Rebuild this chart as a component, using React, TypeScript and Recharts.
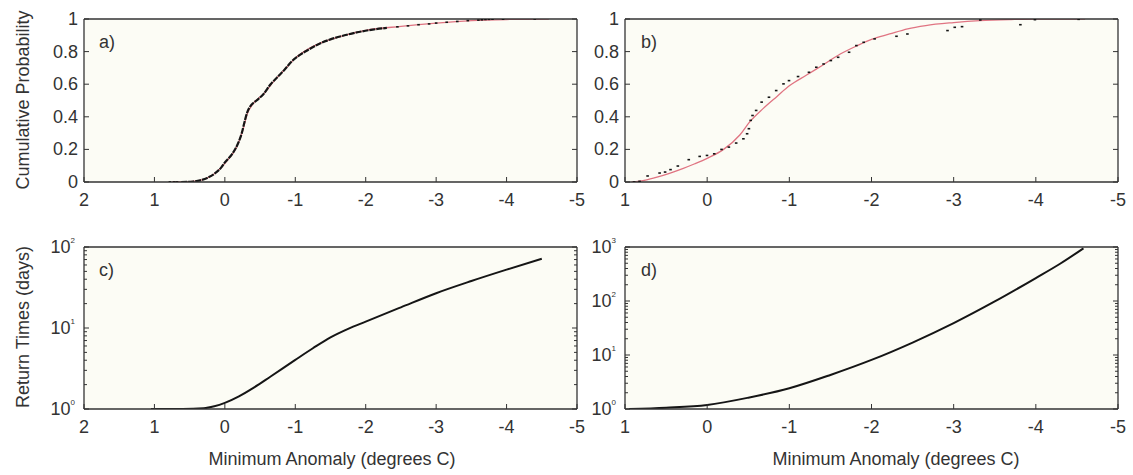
import React from 'react';
import { ComposedChart, Line, Scatter, XAxis, YAxis, CartesianGrid } from 'recharts';

const FONT = '"Liberation Sans", Arial, Helvetica, sans-serif';
const TEXT = '#333';
const FRAME = '#333';
const BG = '#fcfcf5';
const RED = '#e07482';
const BLACK = '#151515';

// ---- tick values ----
const X_TICKS_AC = [2, 1, 0, -1, -2, -3, -4, -5];
const X_TICKS_BD = [1, 0, -1, -2, -3, -4, -5];
const P_TICKS = [0, 0.2, 0.4, 0.6, 0.8, 1];
const P_TICK_LABELS = ['0', '0.2', '0.4', '0.6', '0.8', '1'];
const LOG_TICKS_C = [1, 2, 3, 4, 5, 6, 7, 8, 9, 10, 20, 30, 40, 50, 60, 70, 80, 90, 100];
const LOG_TICKS_D = [1, 2, 3, 4, 5, 6, 7, 8, 9, 10, 20, 30, 40, 50, 60, 70, 80, 90, 100, 200, 300, 400, 500, 600, 700, 800, 900, 1000];

// ---- panel a: fitted CDF (red) and empirical CDF (black) ----
const A_FIT_X = [0.75, 0.5, 0.35, 0.2, 0.05, -0.05, -0.15, -0.25, -0.32, -0.4, -0.55, -0.7, -0.85, -1.0, -1.2, -1.4, -1.7, -2.0, -2.5, -3.0, -3.5, -4.0, -4.6];
const A_FIT_P = [0, 0.002, 0.01, 0.035, 0.09, 0.14, 0.2, 0.31, 0.42, 0.48, 0.54, 0.62, 0.69, 0.76, 0.82, 0.86, 0.9, 0.93, 0.955, 0.975, 0.99, 0.997, 1.0];
const A_EMP_X = [0.62, 0.45, 0.35, 0.25, 0.15, 0.05, 0.0, -0.1, -0.18, -0.24, -0.28, -0.32, -0.37, -0.45, -0.55, -0.65, -0.75, -0.85, -0.95, -1.05, -1.2, -1.35, -1.5, -1.7, -1.9, -2.1, -2.3];
const A_EMP_P = [0, 0.003, 0.01, 0.025, 0.05, 0.09, 0.12, 0.17, 0.23, 0.3, 0.37, 0.43, 0.47, 0.5, 0.54, 0.6, 0.645, 0.69, 0.74, 0.775, 0.815, 0.85, 0.875, 0.9, 0.92, 0.935, 0.945];
const A_TAIL_X = [0.78, 0.72, 0.68, -2.45, -2.6, -2.75, -2.9, -3.0, -3.15, -3.3, -3.45, -3.6, -3.65, -3.7, -3.75, -3.8, -3.95, -4.4];
const A_TAIL_P = [0, 0, 0, 0.952, 0.958, 0.965, 0.97, 0.975, 0.98, 0.985, 0.99, 0.993, 0.995, 0.997, 0.998, 0.999, 0.999, 1.0];

// ---- panel b ----
const B_FIT_X = [0.92, 0.75, 0.61, 0.45, 0.29, 0.15, 0.0, -0.2, -0.4, -0.52, -0.68, -0.85, -1.0, -1.21, -1.41, -1.62, -1.82, -2.0, -2.22, -2.44, -2.66, -3.0, -3.32, -3.7, -4.0, -4.6];
const B_FIT_P = [0, 0.012, 0.03, 0.055, 0.084, 0.112, 0.145, 0.2, 0.29, 0.37, 0.45, 0.525, 0.59, 0.656, 0.718, 0.785, 0.835, 0.875, 0.908, 0.94, 0.96, 0.978, 0.99, 0.997, 1, 1];
const B_EMP_X = [0.889, 0.823, 0.725, 0.579, 0.512, 0.446, 0.357, 0.224, 0.091, 0.002, -0.086, -0.175, -0.264, -0.353, -0.441, -0.486, -0.508, -0.53, -0.552, -0.596, -0.663, -0.752, -0.84, -0.929, -0.996, -1.106, -1.239, -1.328, -1.417, -1.505, -1.594, -1.727, -1.816, -1.905, -2.038, -2.304, -2.437, -2.925, -3.013, -3.102, -3.812, -3.324, -3.989, -4.521];
const B_EMP_P = [0, 0.004, 0.037, 0.055, 0.061, 0.076, 0.098, 0.137, 0.157, 0.163, 0.173, 0.2, 0.214, 0.239, 0.265, 0.296, 0.327, 0.378, 0.408, 0.439, 0.49, 0.52, 0.561, 0.602, 0.622, 0.647, 0.673, 0.704, 0.724, 0.745, 0.765, 0.796, 0.837, 0.857, 0.878, 0.894, 0.908, 0.929, 0.949, 0.953, 0.965, 0.994, 0.996, 0.998];

// ---- panel c, d: return times (days) ----
const C_X = [1.05, 0.6, 0.3, 0.15, 0.0, -0.2, -0.4, -0.65, -1.0, -1.25, -1.5, -1.75, -2.0, -2.5, -3.0, -3.5, -4.0, -4.5];
const C_R = [1, 1, 1.02, 1.08, 1.19, 1.43, 1.81, 2.52, 4.04, 5.62, 7.67, 9.77, 12.0, 18.0, 26.9, 38.0, 52.5, 71.6];
const D_X = [0.95, 0.5, 0.0, -0.5, -1.0, -1.5, -2.0, -2.5, -3.0, -3.5, -4.0, -4.3, -4.58];
const D_R = [1.0, 1.06, 1.19, 1.62, 2.42, 4.27, 8.1, 17, 38.9, 98, 266, 495, 946];

const zip = (xs: number[], ys: number[], key: string) => xs.map((x, i) => ({ x, [key]: ys[i] }));

const aFit = zip(A_FIT_X, A_FIT_P, 'p');
const aEmp = zip(A_EMP_X, A_EMP_P, 'p');
const aTail = zip(A_TAIL_X, A_TAIL_P, 'p');
const bFit = zip(B_FIT_X, B_FIT_P, 'p');
const bEmp = zip(B_EMP_X, B_EMP_P, 'p');
const cData = zip(C_X, C_R, 'r');
const dData = zip(D_X, D_R, 'r');

const textStyle = { fontFamily: FONT, fill: TEXT };
const TICK_FS = 18;

const isMajorLog = (v: number) => Math.abs(Math.log10(v) - Math.round(Math.log10(v))) < 1e-9;

const BottomTick = (props: any) => {
  const { x, y, payload } = props;
  return (
    <g>
      <line x1={x} x2={x} y1={y} y2={y - 5} stroke={FRAME} strokeWidth={1} />
      <text x={x} y={y + 24} textAnchor="middle" fontSize={TICK_FS} {...textStyle}>{String(payload.value)}</text>
    </g>
  );
};
const TopTick = (props: any) => {
  const { x, y } = props;
  return <line x1={x} x2={x} y1={y} y2={y + 5} stroke={FRAME} strokeWidth={1} />;
};
const LeftPTick = (props: any) => {
  const { x, y, payload } = props;
  const idx = P_TICKS.indexOf(payload.value);
  return (
    <g>
      <line x1={x} x2={x + 5} y1={y} y2={y} stroke={FRAME} strokeWidth={1} />
      <text x={x - 6} y={y + 6} textAnchor="end" fontSize={TICK_FS} {...textStyle}>{P_TICK_LABELS[idx]}</text>
    </g>
  );
};
const RightPTick = (props: any) => {
  const { x, y } = props;
  return <line x1={x} x2={x - 5} y1={y} y2={y} stroke={FRAME} strokeWidth={1} />;
};
const LeftLogTick = (props: any) => {
  const { x, y, payload } = props;
  const major = isMajorLog(payload.value);
  const exp = Math.round(Math.log10(payload.value));
  return (
    <g>
      <line x1={x} x2={x + (major ? 5 : 3)} y1={y} y2={y} stroke={FRAME} strokeWidth={1} />
      {major && (
        <text x={x - 9} y={y + 6} textAnchor="end" fontSize={TICK_FS} {...textStyle}>
          10<tspan dy={-10} fontSize={8}>{String(exp)}</tspan>
        </text>
      )}
    </g>
  );
};
const RightLogTick = (props: any) => {
  const { x, y, payload } = props;
  const major = isMajorLog(payload.value);
  return <line x1={x} x2={x - (major ? 5 : 3)} y1={y} y2={y} stroke={FRAME} strokeWidth={1} />;
};

const axisLine = { stroke: FRAME, strokeWidth: 1.3 };

type PanelProps = {
  left: number; top: number; width: number; height: number;
  plot: { x0: number; x1: number; y0: number; y1: number };
  xDomain: [number, number]; xTicks: number[];
  log: boolean; yDomain: [number, number]; yTicks: number[];
  children: React.ReactNode;
};

const AX = 1; // axis thickness used for layout

const Panel = ({ left, top, width, height, plot, xDomain, xTicks, log, yDomain, yTicks, children }: PanelProps) => {
  const margin = {
    left: plot.x0 - left - AX,
    right: left + width - plot.x1 - AX,
    top: plot.y0 - top - AX,
    bottom: top + height - plot.y1 - AX,
  };
  return (
    <div style={{ position: 'absolute', left, top, width, height }}>
      <ComposedChart width={width} height={height} margin={margin}>
        <CartesianGrid horizontal={false} vertical={false} fill={BG} stroke="none" />
        <XAxis dataKey="x" type="number" domain={xDomain} ticks={xTicks} reversed interval={0}
          height={AX} tickSize={0} tickMargin={0} tickLine={false} axisLine={axisLine} tick={BottomTick} allowDataOverflow />
        <XAxis xAxisId="top" orientation="top" type="number" domain={xDomain} ticks={xTicks} reversed interval={0}
          height={AX} tickSize={0} tickMargin={0} tickLine={false} axisLine={axisLine} tick={TopTick} allowDataOverflow />
        <YAxis dataKey={log ? 'r' : 'p'} type="number" scale={log ? 'log' : 'linear'} domain={yDomain} ticks={yTicks} interval={0}
          width={AX} tickSize={0} tickMargin={0} tickLine={false} axisLine={axisLine} tick={log ? LeftLogTick : LeftPTick} allowDataOverflow />
        <YAxis yAxisId="right" orientation="right" type="number" scale={log ? 'log' : 'linear'} domain={yDomain} ticks={yTicks} interval={0}
          width={AX} tickSize={0} tickMargin={0} tickLine={false} axisLine={axisLine} tick={log ? RightLogTick : RightPTick} allowDataOverflow />
        {children}
      </ComposedChart>
    </div>
  );
};

const Dash = (props: any) => {
  const { cx, cy } = props;
  if (cx == null || cy == null) return null;
  return <rect x={cx - 1.3} y={cy - 0.8} width={2.6} height={1.6} fill={BLACK} />;
};

const Title = ({ x, y, text, rotate }: { x: number; y: number; text: string; rotate?: boolean }) => (
  <div style={{
    position: 'absolute', left: x, top: y, whiteSpace: 'nowrap', fontFamily: FONT, fontSize: 18, color: TEXT,
    transform: `translate(-50%, -50%)${rotate ? ' rotate(-90deg)' : ''}`, lineHeight: '20px',
  }}>{text}</div>
);

const PanelLabel = ({ x, y, text }: { x: number; y: number; text: string }) => (
  <div style={{ position: 'absolute', left: x, top: y, fontFamily: FONT, fontSize: 18, color: TEXT, lineHeight: '20px', transform: 'translateY(-50%)' }}>{text}</div>
);

export default function App() {
  return (
    <div style={{ position: 'absolute', left: 0, top: 0, width: 1133, height: 475, background: '#ffffff', overflow: 'hidden' }}>
      <Panel left={0} top={0} width={600} height={230} plot={{ x0: 84, x1: 577, y0: 19, y1: 182 }}
        xDomain={[-5, 2]} xTicks={X_TICKS_AC} log={false} yDomain={[0, 1]} yTicks={P_TICKS}>
        <Line data={aFit} dataKey="p" type="monotone" stroke={RED} strokeWidth={1.3} dot={false} isAnimationActive={false} />
        <Line data={aEmp} dataKey="p" type="monotone" stroke={BLACK} strokeWidth={2.2} strokeDasharray="6 1" dot={false} isAnimationActive={false} />
        <Scatter data={aTail} dataKey="p" shape={Dash} isAnimationActive={false} />
      </Panel>
      <Panel left={560} top={0} width={573} height={230} plot={{ x0: 625, x1: 1118, y0: 19, y1: 182 }}
        xDomain={[-5, 1]} xTicks={X_TICKS_BD} log={false} yDomain={[0, 1]} yTicks={P_TICKS}>
        <Line data={bFit} dataKey="p" type="monotone" stroke={RED} strokeWidth={1.3} dot={false} isAnimationActive={false} />
        <Scatter data={bEmp} dataKey="p" shape={Dash} isAnimationActive={false} />
      </Panel>
      <Panel left={0} top={230} width={600} height={245} plot={{ x0: 84, x1: 577, y0: 247, y1: 409 }}
        xDomain={[-5, 2]} xTicks={X_TICKS_AC} log={true} yDomain={[1, 100]} yTicks={LOG_TICKS_C}>
        <Line data={cData} dataKey="r" type="monotone" stroke={BLACK} strokeWidth={2} dot={false} isAnimationActive={false} />
      </Panel>
      <Panel left={560} top={230} width={573} height={245} plot={{ x0: 625, x1: 1118, y0: 247, y1: 409 }}
        xDomain={[-5, 1]} xTicks={X_TICKS_BD} log={true} yDomain={[1, 1000]} yTicks={LOG_TICKS_D}>
        <Line data={dData} dataKey="r" type="monotone" stroke={BLACK} strokeWidth={2} dot={false} isAnimationActive={false} />
      </Panel>

      <Title x={23} y={100} text="Cumulative Probability" rotate />
      <Title x={23} y={327} text="Return Times (days)" rotate />
      <Title x={332} y={459} text="Minimum Anomaly (degrees C)" />
      <Title x={896} y={459} text="Minimum Anomaly (degrees C)" />

      <PanelLabel x={99} y={42} text="a)" />
      <PanelLabel x={641} y={42} text="b)" />
      <PanelLabel x={99} y={270} text="c)" />
      <PanelLabel x={641} y={270} text="d)" />
    </div>
  );
}
